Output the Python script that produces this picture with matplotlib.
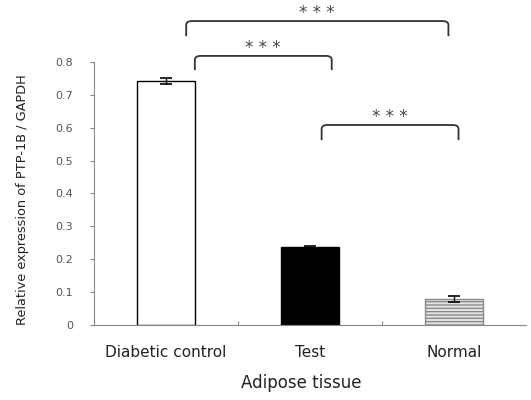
import numpy as np
import matplotlib.pyplot as plt
from matplotlib.path import Path
from matplotlib.patches import PathPatch

# relative PTP-1B expression in adipose tissue
groups = ["Diabetic control", "Test", "Normal"]
expression = [0.742, 0.237, 0.079]
sem = [0.008, 0.004, 0.009]

# significance brackets: (start, end, height, leg drop, label)
brackets = [
    (0.14, 1.96, 0.924, 0.046, "* * *"),
    (0.20, 1.15, 0.818, 0.043, "* * *"),
    (1.08, 2.03, 0.608, 0.046, "* * *"),
]

fig = plt.figure(figsize=(5.31, 4.0), dpi=100, facecolor='w')
ax = fig.add_axes([0.177, 0.1875, 0.814, 0.8125])

x = np.arange(len(groups))
bars = ax.bar(x, expression, width=0.4, edgecolor='black', linewidth=1.0,
              color=['white', 'black', '#e4e4e4'])
bars[2].set_hatch('-----')
bars[2].set_edgecolor('#8a8a8a')
ax.errorbar(x, expression, yerr=sem, fmt='none', ecolor='black',
            elinewidth=1.0, capsize=4, capthick=1.2)

# brackets with rounded corners
for x0, x1, h, drop, label in brackets:
    r = 0.04
    verts = [(x0, h - drop), (x0, h - 0.012), (x0, h), (x0 + r, h),
             (x1 - r, h), (x1, h), (x1, h - 0.012), (x1, h - drop)]
    codes = [Path.MOVETO, Path.LINETO, Path.CURVE3, Path.CURVE3,
             Path.LINETO, Path.CURVE3, Path.CURVE3, Path.LINETO]
    ax.add_patch(PathPatch(Path(verts, codes), fill=False, edgecolor='#333333',
                           linewidth=1.3, clip_on=False))
    ax.text((x0 + x1) / 2, h + 0.008, label, ha='center', va='baseline',
            fontsize=12, color='#444444', clip_on=False)

ax.set_xlim(-0.5, 2.5)
ax.set_ylim(0, 0.988)
ax.spines['top'].set_visible(False)
ax.spines['right'].set_visible(False)
ax.spines['left'].set_bounds(0, 0.8)
ax.spines['left'].set_color('#888888')
ax.spines['bottom'].set_color('#888888')

yt = np.arange(0, 0.81, 0.1)
ax.set_yticks(yt)
ax.set_yticklabels(['0'] + ['%.1f' % v for v in yt[1:]], fontsize=8, color='#555555')
ax.tick_params(axis='y', length=3, color='#888888', pad=12)

ax.set_xticks([0.5, 1.5], minor=False)
ax.set_xticklabels([])
ax.tick_params(axis='x', length=3, color='#888888', direction='in')
for xi, g in zip(x, groups):
    ax.text(xi, -0.085, g, ha='center', va='center', fontsize=11,
            color='#222222', clip_on=False)

ax.text(0.94, -0.175, "Adipose tissue", ha='center', va='center', fontsize=12,
        color='#222222', clip_on=False)
fig.text(0.042, 0.5, "Relative expression of PTP-1B / GAPDH", rotation=90,
         ha='center', va='center', fontsize=9.3, color='#222222')

plt.savefig("out.png", dpi=100)
